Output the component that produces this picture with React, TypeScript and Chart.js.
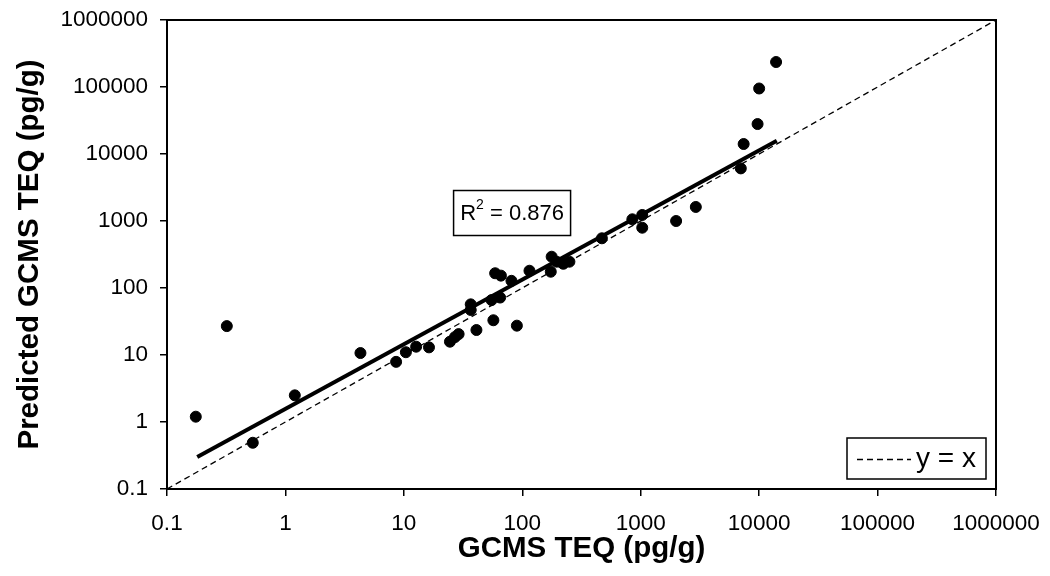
import React, { useEffect, useRef } from 'react';
import { Chart, registerables } from 'chart.js';

Chart.register(...registerables);

// Measured (GCMS) vs predicted TEQ values, pg/g
const measuredTEQ = [
  0.175, 0.32, 0.53, 1.2, 4.3, 8.6, 10.4, 12.7, 16.3,
  24.5, 27, 29, 41, 57, 90, 36.7, 36.7, 55, 65,
  59, 66, 81, 115, 177, 174, 195, 222, 250,
  470, 850, 1030, 1030, 1990, 2920, 7000, 7400, 9700, 10000, 13900,
];
const predictedTEQ = [
  1.2, 27, 0.49, 2.5, 10.7, 7.9, 11, 13.3, 13,
  15.8, 18.5, 20.5, 23.6, 33, 27.4, 57, 47, 66, 72,
  166, 153, 128, 181, 293, 175, 247, 230, 247,
  552, 1060, 1230, 794, 1000, 1620, 6100, 14100, 28000, 95000, 236000,
];

// Power-law trend line end points
const trendX = [0.18, 14100];
const trendY = [0.3, 15800];

// 1:1 reference line
const identityX = [0.1, 1000000];
const identityY = [0.1, 1000000];

const tickValues = [0.1, 1, 10, 100, 1000, 10000, 100000, 1000000];
const tickLabels = ['0.1', '1', '10', '100', '1000', '10000', '100000', '1000000'];

const xTitle = 'GCMS TEQ (pg/g)';
const yTitle = 'Predicted GCMS TEQ (pg/g)';
const r2Value = '0.876';
const r2Anchor = { x: 82, y: 1316 };
const legendLabel = 'y = x';

const FONT = '"Liberation Sans", Arial, sans-serif';

const overlayPlugin = {
  id: 'overlay',
  afterDatasetsDraw(chart: any) {
    const { ctx, chartArea, scales } = chart;
    ctx.save();
    // frame around plot area
    ctx.strokeStyle = '#000';
    ctx.lineWidth = 2;
    ctx.strokeRect(chartArea.left, chartArea.top, chartArea.right - chartArea.left, chartArea.bottom - chartArea.top);

    // R² box
    const cx = scales.x.getPixelForValue(r2Anchor.x);
    const cy = scales.y.getPixelForValue(r2Anchor.y);
    const main = `22px ${FONT}`;
    const sup = `14px ${FONT}`;
    ctx.font = main;
    const wR = ctx.measureText('R').width;
    const wRest = ctx.measureText(' = ' + r2Value).width;
    ctx.font = sup;
    const wSup = ctx.measureText('2').width;
    const total = wR + wSup + wRest;
    const bw = 117, bh = 45;
    ctx.fillStyle = '#fff';
    ctx.fillRect(cx - bw / 2, cy - bh / 2, bw, bh);
    ctx.lineWidth = 1.5;
    ctx.strokeRect(cx - bw / 2, cy - bh / 2, bw, bh);
    ctx.fillStyle = '#000';
    ctx.textBaseline = 'middle';
    ctx.textAlign = 'left';
    let tx = cx - total / 2;
    ctx.font = main;
    ctx.fillText('R', tx, cy + 1);
    tx += wR;
    ctx.font = sup;
    ctx.fillText('2', tx, cy - 8);
    tx += wSup;
    ctx.font = main;
    ctx.fillText(' = ' + r2Value, tx, cy + 1);

    // legend box (bottom right inside plot)
    const lw = 139, lh = 41;
    const lx = chartArea.right - 10 - lw;
    const ly = chartArea.bottom - 10 - lh;
    ctx.fillStyle = '#fff';
    ctx.fillRect(lx, ly, lw, lh);
    ctx.lineWidth = 1.5;
    ctx.strokeStyle = '#000';
    ctx.strokeRect(lx, ly, lw, lh);
    ctx.beginPath();
    ctx.setLineDash([6, 4]);
    ctx.lineWidth = 1.3;
    ctx.moveTo(lx + 10, ly + lh / 2 + 1);
    ctx.lineTo(lx + 64, ly + lh / 2 + 1);
    ctx.stroke();
    ctx.setLineDash([]);
    ctx.font = `28px ${FONT}`;
    ctx.fillStyle = '#000';
    ctx.textBaseline = 'middle';
    ctx.fillText(legendLabel, lx + 69, ly + lh / 2 + 1);
    ctx.restore();
  },
};

export default function App() {
  const canvasRef = useRef<HTMLCanvasElement | null>(null);

  useEffect(() => {
    if (!canvasRef.current) return;
    const setTicks = (scale: any) => {
      scale.ticks = tickValues.map((v) => ({ value: v }));
    };
    const tickLabel = (value: any) => {
      const i = tickValues.findIndex((t) => Math.abs(Math.log10(t) - Math.log10(Number(value))) < 1e-6);
      return i >= 0 ? tickLabels[i] : '';
    };
    const noPad = (scale: any) => {
      scale.paddingLeft = 0;
      scale.paddingRight = 0;
      scale.paddingTop = 0;
      scale.paddingBottom = 0;
    };
    const chart = new Chart(canvasRef.current, {
      type: 'scatter',
      data: {
        datasets: [
          {
            label: 'data',
            data: measuredTEQ.map((x, i) => ({ x, y: predictedTEQ[i] })),
            backgroundColor: '#000',
            borderColor: '#000',
            pointRadius: 5.5,
            pointHoverRadius: 5.5,
            showLine: false,
            order: 0,
          },
          {
            label: 'trend',
            type: 'line',
            data: trendX.map((x, i) => ({ x, y: trendY[i] })),
            borderColor: '#000',
            borderWidth: 4,
            pointRadius: 0,
            fill: false,
            order: 1,
          },
          {
            label: legendLabel,
            type: 'line',
            data: identityX.map((x, i) => ({ x, y: identityY[i] })),
            borderColor: '#000',
            borderWidth: 1.3,
            borderDash: [6, 4],
            pointRadius: 0,
            fill: false,
            order: 2,
          },
        ],
      },
      options: {
        animation: false,
        responsive: false,
        maintainAspectRatio: false,
        layout: { padding: { top: 20, right: 54, left: 0, bottom: 0 } },
        plugins: { legend: { display: false }, tooltip: { enabled: false } },
        scales: {
          x: {
            type: 'logarithmic',
            min: 0.1,
            max: 1000000,
            afterBuildTicks: setTicks,
            afterFit: (scale: any) => { scale.height = 87; noPad(scale); },
            grid: { display: true, drawOnChartArea: false, drawTicks: true, tickLength: 7, color: '#000', lineWidth: 1.5 },
            border: { display: true, color: '#000', width: 2 },
            ticks: {
              autoSkip: false,
              maxRotation: 0,
              color: '#000',
              padding: 14,
              font: { family: FONT, size: 22.5 },
              callback: tickLabel,
            },
            title: {
              display: true,
              text: xTitle,
              color: '#000',
              font: { family: FONT, size: 29.5, weight: 'bold' },
              padding: { top: 0, bottom: 9 },
            },
          },
          y: {
            type: 'logarithmic',
            min: 0.1,
            max: 1000000,
            afterBuildTicks: setTicks,
            afterFit: (scale: any) => { scale.width = 167; noPad(scale); },
            grid: { display: true, drawOnChartArea: false, drawTicks: true, tickLength: 7, color: '#000', lineWidth: 1.5 },
            border: { display: true, color: '#000', width: 2 },
            ticks: {
              autoSkip: false,
              color: '#000',
              padding: 12,
              font: { family: FONT, size: 22.5 },
              callback: tickLabel,
            },
            title: {
              display: true,
              text: yTitle,
              color: '#000',
              font: { family: FONT, size: 29.5, weight: 'bold' },
              padding: { top: 12, bottom: 0 },
            },
          },
        },
      },
      plugins: [overlayPlugin],
    });
    return () => chart.destroy();
  }, []);

  return (
    <div style={{ position: 'fixed', left: 0, top: 0, width: 1050, height: 576, background: '#fff' }}>
      <canvas ref={canvasRef} width={1050} height={576} style={{ width: 1050, height: 576, display: 'block' }} />
    </div>
  );
}
